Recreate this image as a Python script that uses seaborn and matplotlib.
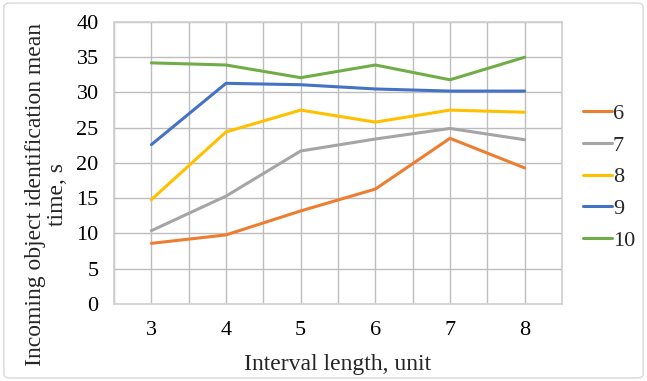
import matplotlib
matplotlib.use("Agg")
import matplotlib.pyplot as plt
import seaborn as sns
import pandas as pd
from matplotlib.patches import FancyBboxPatch

x_vals = [3, 4, 5, 6, 7, 8]
series_names = ["6", "7", "8", "9", "10"]
s6 = [8.6, 9.8, 13.2, 16.3, 23.5, 19.3]
s7 = [10.4, 15.3, 21.7, 23.4, 24.9, 23.3]
s8 = [14.8, 24.4, 27.5, 25.8, 27.5, 27.2]
s9 = [22.6, 31.3, 31.1, 30.5, 30.2, 30.2]
s10 = [34.2, 33.9, 32.1, 33.9, 31.8, 35.0]
colors = ["#ED7D31", "#A5A5A5", "#FFC000", "#4472C4", "#70AD47"]

rows = []
for name, vals in zip(series_names, [s6, s7, s8, s9, s10]):
    for xv, yv in zip(x_vals, vals):
        rows.append({"x": xv, "y": yv, "series": name})
df = pd.DataFrame(rows)

sns.set_theme(style="white")
plt.rcParams["font.family"] = ["Liberation Serif", "DejaVu Serif"]

fig = plt.figure(figsize=(6.47, 3.81), dpi=100)
ax = fig.add_axes([0.1762, 0.2021, 0.6924, 0.7402])

sns.lineplot(data=df, x="x", y="y", hue="series", hue_order=series_names,
             palette=colors, linewidth=2.2, ax=ax, legend=True)

ax.set_xlim(2.5, 8.5)
ax.set_ylim(0, 40)
ax.set_xticks(x_vals)
ax.set_xticks([v + 0.5 for v in [2] + x_vals], minor=True)
ax.set_yticks(range(0, 41, 5))
ax.grid(True, which="both", axis="x", color="#BDBDBD", linewidth=1.0)
ax.grid(True, which="major", axis="y", color="#BDBDBD", linewidth=1.0)
ax.set_axisbelow(True)
for sp in ax.spines.values():
    sp.set_color("#D0D0D0")
    sp.set_linewidth(1.2)
ax.tick_params(axis="both", which="both", length=0, labelsize=16, colors="black")
ax.tick_params(axis="x", pad=12)
ax.tick_params(axis="y", pad=11)
ax.set_xlabel("Interval length, unit", fontsize=17, labelpad=10)
ax.set_ylabel("")
fig.text(0.0719, 0.4895, "Incoming object identification mean\ntime, s", fontsize=17,
         rotation=90, ha="center", va="center", multialignment="center",
         linespacing=1.05)

handles, labels = ax.get_legend_handles_labels()
ax.get_legend().remove()
fig.legend(handles, labels, loc="center left", bbox_to_anchor=(0.901, 0.535),
           frameon=False, fontsize=16, handlelength=1.3, handletextpad=0.05,
           labelspacing=0.5, borderaxespad=0, borderpad=0)

border = FancyBboxPatch((0.006, 0.008), 0.988, 0.984, boxstyle="round,pad=0,rounding_size=0.01",
                        transform=fig.transFigure, facecolor="none", edgecolor="#D9D9D9",
                        linewidth=1.0)
fig.patches.append(border)

fig.savefig("out.png", dpi=100)
